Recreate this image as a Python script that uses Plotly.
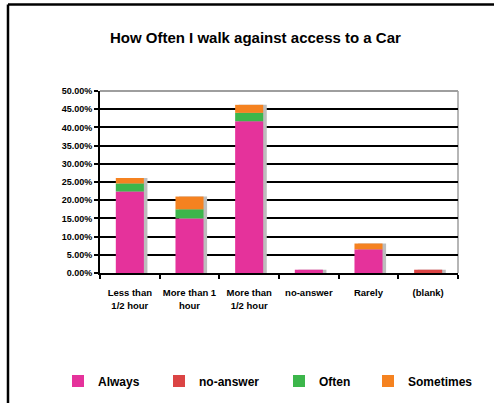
import plotly.graph_objects as go

categories = ["Less than<br>1/2 hour", "More than 1<br>hour", "More than<br>1/2 hour",
              "no-answer", "Rarely", "(blank)"]
series_names = ["Always", "no-answer", "Often", "Sometimes"]
always = [22.4, 15.0, 41.7, 0.9, 6.5, 0.0]
no_answer = [0.0, 0.0, 0.0, 0.0, 0.0, 0.9]
often = [2.2, 2.5, 2.3, 0.0, 0.0, 0.0]
sometimes = [1.5, 3.5, 2.2, 0.0, 1.6, 0.0]
y_ticks = [0, 5, 10, 15, 20, 25, 30, 35, 40, 45, 50]

colors = ["#E5329B", "#DB4444", "#3CB64B", "#F58220"]
series = [always, no_answer, often, sometimes]
legend_ids = ["legend", "legend2", "legend3", "legend4"]
legend_x = [58, 159, 279, 368]   # left edge of each legend box, px

BAR_W = 0.47
FONT = "Liberation Sans"
W, H = 494, 403

fig = go.Figure()

# drop shadow behind each stacked column
totals = [sum(v) for v in zip(*series)]
fig.add_trace(go.Bar(
    x=categories, y=totals, width=BAR_W, offset=-BAR_W / 2 + 0.06,
    marker=dict(color="#BDBDBD", line=dict(width=0)),
    showlegend=False, hoverinfo="skip",
))

# stacked segments, bases accumulated from the series below
base = [0.0] * len(categories)
for name, vals, col, lg in zip(series_names, series, colors, legend_ids):
    fig.add_trace(go.Bar(
        x=categories, y=vals, base=list(base), name=f"<b>{name}</b>",
        width=BAR_W, offset=-BAR_W / 2, legend=lg,
        marker=dict(color=col, line=dict(width=0)),
    ))
    base = [b + v for b, v in zip(base, vals)]

legend_style = dict(orientation="h", yref="container", xref="container",
                    y=1 - 381 / H, yanchor="middle", xanchor="left",
                    font=dict(size=12, family=FONT), bgcolor="rgba(0,0,0,0)",
                    itemwidth=30)

fig.update_layout(
    width=W, height=H,
    margin=dict(l=100, r=36, t=91, b=130),
    paper_bgcolor="white", plot_bgcolor="white",
    barmode="overlay",
    font=dict(family=FONT, color="black"),
    title=dict(text="<b>How Often I walk against access to a Car</b>",
               x=0.517, xanchor="center", y=1 - 38 / H, yanchor="middle",
               font=dict(size=15, family=FONT)),
    showlegend=True,
    **{lg: dict(legend_style, x=lx / W) for lg, lx in zip(legend_ids, legend_x)},
)

fig.update_yaxes(
    range=[0, 50], tickvals=y_ticks,
    ticktext=[f"<b>{v:.2f}%</b>" for v in y_ticks],
    showgrid=True, gridcolor="black", gridwidth=2,
    showline=True, linecolor="black", linewidth=2,
    ticks="outside", ticklen=4, tickcolor="black", tickwidth=1.5,
    tickfont=dict(size=9, family=FONT),
    zeroline=False,
)
fig.update_xaxes(
    showline=True, linecolor="black", linewidth=2,
    ticks="outside", tickson="boundaries", ticklen=4, tickcolor="black", tickwidth=1.5,
    tickfont=dict(size=9.5, family=FONT), ticklabelstandoff=10, tickangle=0,
    tickvals=categories, ticktext=[f"<b>{c}</b>" for c in categories],
    showgrid=False,
)

# plot-area border on top and right
fig.add_shape(type="line", xref="paper", yref="paper", x0=0, x1=1, y0=1, y1=1,
              line=dict(color="#9E9E9E", width=2), layer="above")
fig.add_shape(type="line", xref="paper", yref="paper", x0=1, x1=1, y0=0, y1=1,
              line=dict(color="#9E9E9E", width=1.5), layer="below")
# outer chart frame: left and top edges (the rest runs off the canvas)
fig.add_shape(type="line", xref="paper", yref="paper",
              x0=-0.257, x1=-0.257, y0=-1.5, y1=1.475,
              line=dict(color="black", width=2.5), layer="above")
fig.add_shape(type="line", xref="paper", yref="paper",
              x0=-0.257, x1=1.6, y0=1.475, y1=1.475,
              line=dict(color="black", width=2.5), layer="above")

# keep the page from growing scrollbars around the fixed-size figure
fig.write_html(
    "out.html",
    post_script="document.documentElement.style.overflow='hidden';"
                "document.body.style.overflow='hidden';",
)
